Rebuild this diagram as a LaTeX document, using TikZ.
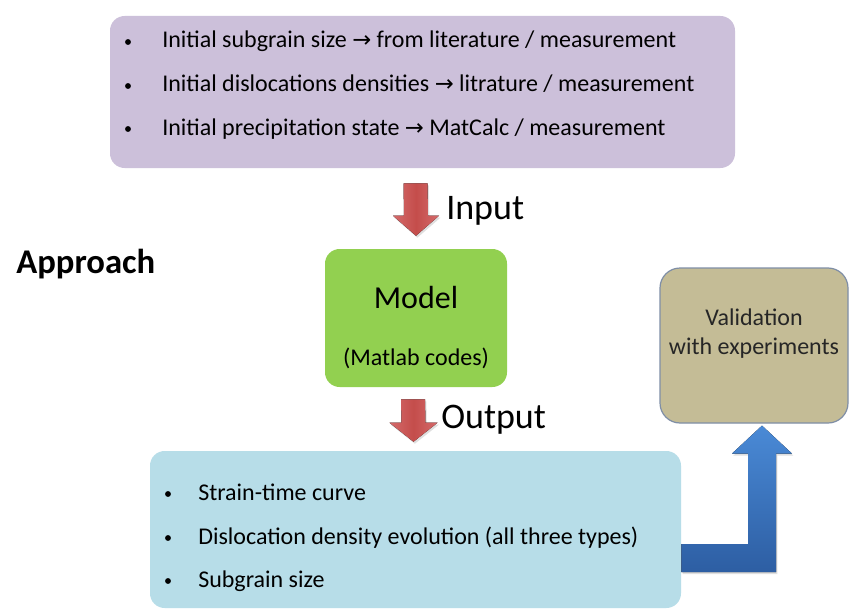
\documentclass[tikz,border=0pt]{standalone}
\usepackage{fontspec}
\setmainfont{Carlito}
\newfontfamily\symfont{DejaVu Sans}
\usetikzlibrary{calc,shadows}
\definecolor{purplebox}{HTML}{CCC0DA}
\definecolor{greenbox}{HTML}{92D050}
\definecolor{tanbox}{HTML}{C4BC96}
\definecolor{bluebox}{HTML}{B7DDE8}
\definecolor{tanborder}{HTML}{7F8EA6}
\definecolor{redarrow}{HTML}{C44D4B}
\definecolor{redlight}{HTML}{D46A6B}
\definecolor{bluetop}{HTML}{4A8AD6}
\definecolor{bluebot}{HTML}{2D5EA3}
\newcommand\myarrow{{\symfont\fontsize{17}{19}\selectfont →}}
\tikzset{
  boxbase/.style={rectangle, rounded corners=11pt, inner sep=0pt},
  bullettext/.style={anchor=base west, inner sep=0pt, font=\fontsize{18}{21.6}\selectfont},
  bulletdot/.style={circle, fill=black, inner sep=0pt, minimum size=4.4pt},
  bigtext/.style={anchor=base west, inner sep=0pt, font=\fontsize{27}{32}\selectfont},
  redblock/.style={left color=redlight, right color=redlight, middle color=redarrow, draw=none,
     drop shadow={opacity=0.25, shadow xshift=1pt, shadow yshift=-1.5pt}},
  blueblock/.style={top color=bluetop, bottom color=bluebot, draw=none,
     drop shadow={opacity=0.25, shadow xshift=1pt, shadow yshift=-1.5pt}}
}
\begin{document}
\begin{tikzpicture}[x=0.75pt,y=-0.75pt]
\useasboundingbox (0,0) rectangle (849,610);
\fill[white] (0,0) rectangle (849,610);

% boxes
\node[boxbase, fill=purplebox, minimum width=468.75pt, minimum height=114pt] (inputs) at (422.5,92) {};
\node[boxbase, fill=greenbox, minimum width=136.5pt, minimum height=103.5pt] (model) at (416,318) {};
\node[boxbase, fill=tanbox, draw=tanborder, line width=0.9pt, rounded corners=15pt, minimum width=141pt, minimum height=116.25pt] (valid) at (754,345.5) {};
\node[boxbase, fill=bluebox, minimum width=398.25pt, minimum height=117.75pt] (outputs) at (415.5,529.5) {};

% top bullets
\node[bulletdot] (b1) at (128,42) {};
\node[bullettext] (t1) at (162,48) {Initial subgrain size \myarrow{} from literature / measurement};
\node[bulletdot] (b2) at (128,86) {};
\node[bullettext] (t2) at (162,92) {Initial dislocations densities \myarrow{} litrature / measurement};
\node[bulletdot] (b3) at (128,129) {};
\node[bullettext] (t3) at (162,135) {Initial precipitation state \myarrow{} MatCalc / measurement};

% bottom bullets
\node[bulletdot] (c1) at (168,494) {};
\node[bullettext] (s1) at (198,500) {Strain-time curve};
\node[bulletdot] (c2) at (168,538) {};
\node[bullettext] (s2) at (198,544) {Dislocation density evolution (all three types)};
\node[bulletdot] (c3) at (168,581) {};
\node[bullettext] (s3) at (198,587) {Subgrain size};

% model texts
\node[anchor=base, inner sep=0pt, font=\fontsize{24}{28}\selectfont] (modeltitle) at (416,308) {Model};
\node[anchor=base, inner sep=0pt, font=\fontsize{18}{21}\selectfont] (modelsub) at (416,365) {(Matlab codes)};

% validation texts
\node[anchor=base, inner sep=0pt, text=black!85, font=\fontsize{18}{22}\selectfont] (val1) at (754,325) {Validation};
\node[anchor=base, inner sep=0pt, text=black!85, font=\fontsize{18}{22}\selectfont] (val2) at (754,354) {with experiments};

% labels
\node[anchor=base west, inner sep=0pt, font=\bfseries\fontsize{26}{30}\selectfont] (approach) at (16,273) {Approach};
\node[bigtext] (inlabel) at (446,219) {Input};
\node[bigtext] (outlabel) at (441,428) {Output};

% red block arrows
\coordinate (inTop) at ($(inputs.south)+(-7,15)$);
\coordinate (inTip) at ($(model.north)+(0,-13)$);
\fill[redblock] ($(inTop)+(-12,0)$) -- ($(inTop)+(12,0)$) -- ($(inTip)+(12,-20)$) -- ($(inTip)+(23,-20)$)
   -- (inTip) -- ($(inTip)+(-23,-20)$) -- ($(inTip)+(-12,-20)$) -- cycle;

\coordinate (outTop) at ($(model.south)+(-3,12)$);
\coordinate (outTip) at ($(outputs.north)+(-2,-9)$);
\fill[redblock] ($(outTop)+(-12,0)$) -- ($(outTop)+(12,0)$) -- ($(outTip)+(12,-19)$) -- ($(outTip)+(24,-19)$)
   -- (outTip) -- ($(outTip)+(-24,-19)$) -- ($(outTip)+(-12,-19)$) -- cycle;

% blue bent arrow
\coordinate (bStart) at (outputs.east |- 0,558);
\coordinate (bTip) at ($(valid.south)+(8,2)$);
\fill[blueblock] ($(bStart)+(0,-14)$) -- ($(bTip |- bStart)+(-14,-14)$) -- ($(bTip)+(-14,28)$)
   -- ($(bTip)+(-30,28)$) -- (bTip) -- ($(bTip)+(30,28)$) -- ($(bTip)+(14,28)$)
   -- ($(bTip |- bStart)+(14,14)$) -- ($(bStart)+(0,14)$) -- cycle;
\end{tikzpicture}
\end{document}
